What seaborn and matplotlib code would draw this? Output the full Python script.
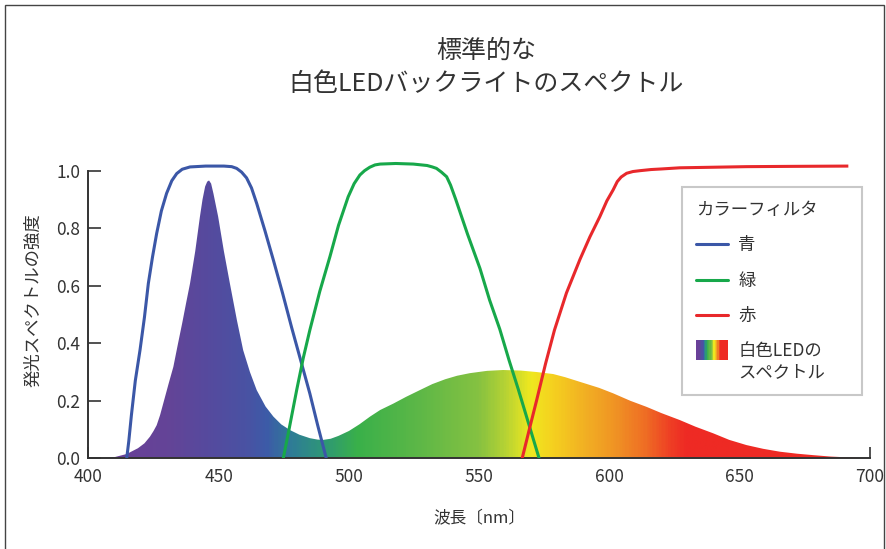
import numpy as np
import matplotlib
matplotlib.use("Agg")
import matplotlib.pyplot as plt
import seaborn as sns
from matplotlib.colors import LinearSegmentedColormap, Normalize
from matplotlib.patches import Polygon, Rectangle
from matplotlib.lines import Line2D
from matplotlib.legend_handler import HandlerBase

# --- data (wavelength nm, relative intensity) ---
blue_wl = [414.7, 415.5, 416.5, 418.0, 419.8, 421.5, 423.0, 424.6, 426.2, 428.0, 430.0,
           432.0, 433.9, 436.0, 439.0, 445.0, 452.0, 455.0, 456.9, 458.8, 460.7, 462.6,
           464.6, 467.8, 471.0, 474.5, 478.0, 481.5, 485.0, 488.0, 491.3]
blue_val = [0.0, 0.06, 0.15, 0.27, 0.376, 0.49, 0.608, 0.70, 0.782, 0.86, 0.921,
            0.965, 0.99, 1.005, 1.013, 1.016, 1.016, 1.014, 1.008, 0.995, 0.975, 0.94,
            0.886, 0.79, 0.689, 0.575, 0.455, 0.34, 0.225, 0.115, 0.0]

green_wl = [474.8, 477.0, 480.0, 482.5, 485.0, 488.8, 492.7, 496.0, 499.7, 502.0, 504.2,
            506.0, 508.0, 510.0, 512.0, 518.0, 524.7, 530.0, 532.0, 533.6, 535.5, 537.5,
            539.0, 541.0, 545.5, 550.3, 554.0, 557.9, 561.5, 565.0, 569.0, 573.0]
green_val = [0.0, 0.1, 0.24, 0.35, 0.446, 0.58, 0.701, 0.81, 0.909, 0.955, 0.985,
             1.0, 1.012, 1.02, 1.023, 1.025, 1.023, 1.018, 1.013, 1.008, 0.995, 0.979,
             0.95, 0.9, 0.78, 0.66, 0.55, 0.449, 0.34, 0.24, 0.12, 0.0]

red_wl = [566.5, 569.5, 572.0, 575.5, 578.9, 583.5, 588.7, 592.5, 596.3, 599.0, 601.4,
          603.0, 604.5, 606.6, 609.0, 611.7, 616.0, 620.0, 627.0, 640.0, 652.6, 670.0, 691.7]
red_val = [0.0, 0.11, 0.2, 0.33, 0.446, 0.575, 0.692, 0.77, 0.84, 0.895, 0.933,
           0.962, 0.978, 0.991, 0.997, 1.0, 1.004, 1.006, 1.01, 1.012, 1.014, 1.015, 1.016]

led_wl = [400, 404.5, 410, 414.7, 419, 421.5, 423.6, 425, 426.2, 427.5, 429, 430.8, 432.6,
          434.3, 436, 437.5, 439.0, 441, 442.8, 443.8, 444.8, 445.6, 446.3, 447.1, 448,
          449.8, 452, 454.3, 457, 459.4, 462, 464.6, 468, 471.0, 474, 477.4, 481, 485, 488,
          490.1, 493, 496, 500, 504, 508.1, 512, 517, 522, 527.2, 532, 537, 541.5, 546.4,
          553, 559.2, 566, 572, 578.4, 583, 588.6, 596, 601.4, 608, 614.2, 620, 627.0, 633,
          639.8, 646, 652.6, 659, 665.4, 672, 678.2, 685, 692, 698.7, 700]
led_val = [0, 0.0, 0.004, 0.015, 0.035, 0.052, 0.075, 0.095, 0.115, 0.15, 0.2, 0.26, 0.318,
           0.395, 0.47, 0.54, 0.608, 0.72, 0.84, 0.9, 0.945, 0.962, 0.966, 0.955, 0.92,
           0.84, 0.72, 0.608, 0.48, 0.376, 0.30, 0.237, 0.18, 0.145, 0.118, 0.098, 0.082,
           0.07, 0.065, 0.064, 0.068, 0.078, 0.095, 0.118, 0.145, 0.168, 0.19, 0.214, 0.237,
           0.258, 0.275, 0.287, 0.296, 0.304, 0.307, 0.305, 0.300, 0.293, 0.282, 0.266,
           0.245, 0.226, 0.2, 0.179, 0.157, 0.133, 0.11, 0.087, 0.064, 0.046, 0.033, 0.023,
           0.016, 0.011, 0.006, 0.003, 0.0, 0]

# colour stops of the spectrum gradient
grad_wl = [400, 430, 445, 460, 468, 478, 490, 503, 528, 550, 560, 570, 578, 590, 602, 614,
           624, 630, 700]
grad_col = ["#6b3f99", "#644497", "#564a9e", "#4a52a3", "#3d5ba8", "#2f7d96", "#2e9777",
            "#39b04a", "#5fb847", "#86c241", "#b5d234", "#efe81f", "#f5d21f", "#f2b223",
            "#f09524", "#ef6e24", "#ee3e24", "#ee2a24", "#ee2a24"]

x_ticks = [400, 450, 500, 550, 600, 650, 700]
y_ticks = [0.0, 0.2, 0.4, 0.6, 0.8, 1.0]

filter_labels = ["青", "緑", "赤"]
filter_colors = ["#3b57a7", "#17a84a", "#e8282b"]
led_label = "白色LEDの\nスペクトル"

sns.set_theme(style="white")
plt.rcParams["font.family"] = ["Noto Sans CJK JP", "DejaVu Sans"]
TXT = "#333333"

fig = plt.figure(figsize=(8.86, 5.49), dpi=100)
ax = fig.add_axes([0.0998, 0.1652, 0.8821, 0.5763])

cmap = LinearSegmentedColormap.from_list(
    "spec", [((w - 400) / 300, c) for w, c in zip(grad_wl, grad_col)])

# gradient image clipped by LED spectrum polygon
ramp = np.linspace(400, 700, 600).reshape(1, -1)
im = ax.imshow(ramp, cmap=cmap, norm=Normalize(400, 700), extent=[400, 700, 0, 1.1],
               aspect="auto", origin="lower", zorder=1, interpolation="bilinear")
poly = Polygon(np.column_stack([led_wl, led_val]), closed=True, facecolor="none",
               edgecolor="none", transform=ax.transData)
ax.add_patch(poly)
im.set_clip_path(poly)

for wl, val, col in zip([blue_wl, green_wl, red_wl], [blue_val, green_val, red_val],
                        filter_colors):
    sns.lineplot(x=wl, y=val, color=col, lw=2.2, ax=ax, zorder=3, sort=False,
                 solid_joinstyle="round", solid_capstyle="butt")

ax.set_xlim(400, 700)
ax.set_ylim(0, 1.1)
ax.set_xticks(x_ticks)
ax.set_yticks(y_ticks)
ax.set_yticklabels([f"{v:.1f}" for v in y_ticks])
ax.tick_params(axis="x", direction="in", length=8, width=1.2, color=TXT, pad=7,
               labelsize=12.5, labelcolor=TXT, bottom=True)
ax.tick_params(axis="y", direction="in", length=9, width=1.2, color=TXT, pad=6,
               labelsize=12.5, labelcolor=TXT, left=True)
for s in ["top", "right"]:
    ax.spines[s].set_visible(False)
for s in ["left", "bottom"]:
    ax.spines[s].set_color(TXT)
    ax.spines[s].set_linewidth(1.4)
ax.spines["left"].set_bounds(0, 1.0)
ax.spines["bottom"].set_bounds(400, 700)
ax.set_facecolor("white")
ax.grid(False)


class GradientHandler(HandlerBase):
    def create_artists(self, legend, orig_handle, xdescent, ydescent, width, height,
                       fontsize, trans):
        n = 24
        h = height * 1.6
        y0 = -ydescent + height * 0.75
        arts = []
        for i, c in enumerate(cmap(np.linspace(0, 1, n))):
            arts.append(Rectangle((-xdescent + i * width / n, y0), width / n + 0.3, h,
                                  facecolor=c, edgecolor="none", transform=trans))
        return arts


handles = [Line2D([], [], color=c, lw=2.2) for c in filter_colors]
handles.append(Rectangle((0, 0), 1, 1))
leg = ax.legend(handles, filter_labels + [led_label], title="カラーフィルタ",
                loc="upper left", bbox_to_anchor=(682 / 886, 0, 180 / 886, 0.6594),
                bbox_transform=fig.transFigure, mode="expand", borderaxespad=0,
                fontsize=12.5, title_fontsize=12.5,
                frameon=True, fancybox=False, framealpha=1, edgecolor="#c8c8c8",
                handlelength=1.85, handletextpad=0.6, labelspacing=1.0, borderpad=0.8,
                handler_map={Rectangle: GradientHandler()})
leg.get_frame().set_linewidth(1.5)
leg._legend_box.align = "left"
for t in leg.get_texts():
    t.set_color(TXT)
leg.get_title().set_color(TXT)

fig.text(0.5485, 0.877, "標準的な\n白色LEDバックライトのスペクトル", ha="center", va="center",
         fontsize=18, color=TXT, linespacing=1.35)
fig.text(0.5406, 0.0546, "波長〔nm〕", ha="center", va="center", fontsize=12, color=TXT)
fig.text(0.037, 0.4535, "発光スペクトルの強度", ha="center", va="center", rotation=90,
         fontsize=12.5, color=TXT)

# outer frame
fig.add_artist(Rectangle((5 / 886, -0.05), 879 / 886, 1.05 - 5 / 549, transform=fig.transFigure,
                         fill=False, edgecolor="#444444", lw=1.0))

fig.savefig("out.png", dpi=100, facecolor="white")
